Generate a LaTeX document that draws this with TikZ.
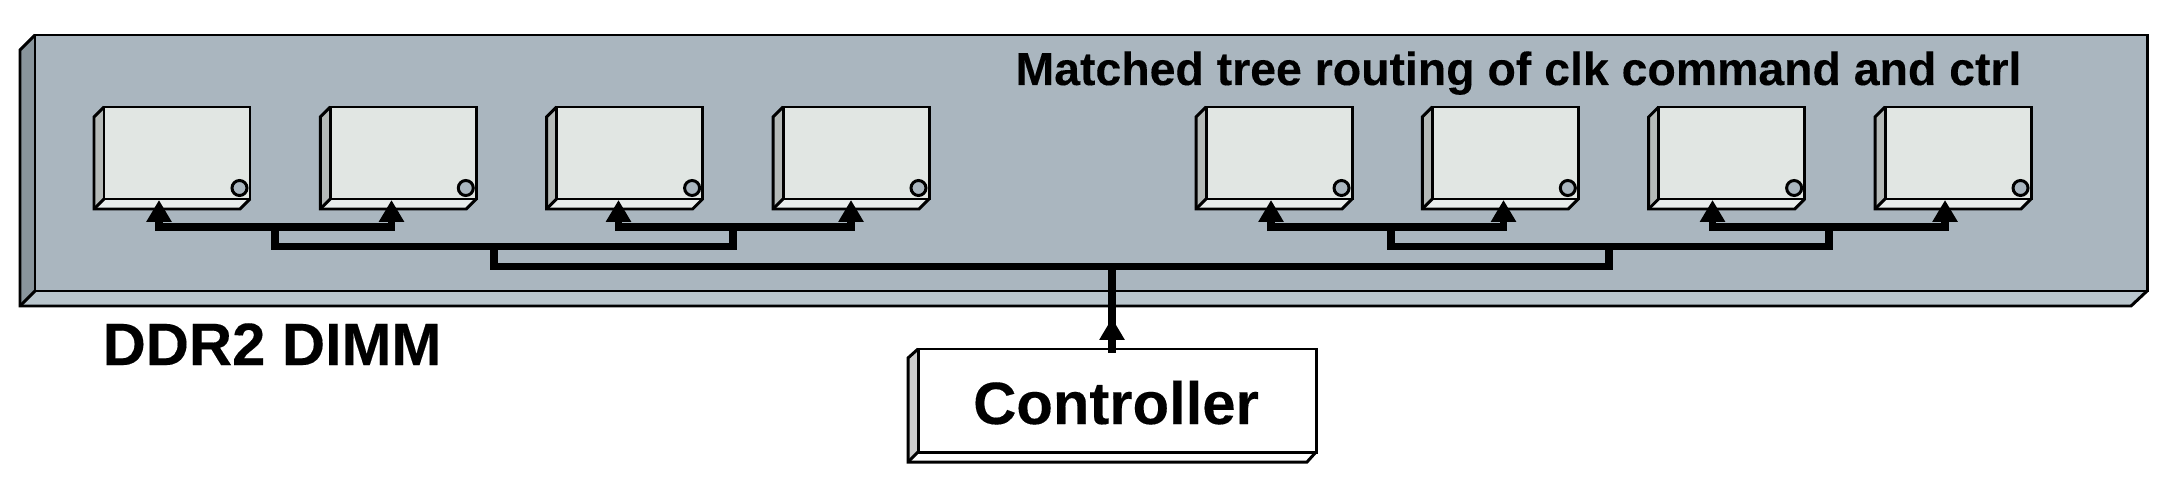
\documentclass[tikz,border=0pt]{standalone}
\usepackage{fontspec}
\setmainfont[BoldFeatures={FakeBold=0.2}]{Liberation Sans}
\usetikzlibrary{arrows.meta}
\definecolor{board}{HTML}{AAB6BF}
\definecolor{boardL}{HTML}{89959C}
\definecolor{boardB}{HTML}{B9C5CC}
\definecolor{chip}{HTML}{E1E6E3}
\definecolor{chipL}{HTML}{B5BAB8}
\definecolor{chipB}{HTML}{E9EDEC}
\definecolor{ctlL}{HTML}{CCCCCC}
\newlength{\xu}\setlength{\xu}{0.01cm}
\tikzset{
  edge3d/.style={draw=black,line width=0.85pt,line join=miter},
  wire/.style={line width=2.2pt,line cap=butt,line join=miter},
  tipwire/.style={wire,-{Triangle[width=6.8pt,length=6.2pt]}},
  lbl/.style={inner sep=0pt,anchor=base},
  flat/.style={edge3d,inner sep=0pt,outer sep=0pt,anchor=north west},
}
\newcommand{\chipat}[2]{%
  \fill[chipL] (#1-10,117)--(#1,107)--(#1,199)--(#1-10,209)--cycle;
  \fill[chipB] (#1-10,209)--(#1,199)--(#1+146,199)--(#1+136,209)--cycle;
  \node[flat,fill=chip,minimum width=146\xu,minimum height=92\xu] (#2) at (#1,107) {};
  \draw[edge3d] (#1,107)--(#1-10,117)--(#1-10,209)--(#1+136,209)--(#1+146,199);
  \draw[edge3d] (#1-10,209)--(#1,199);
  \draw[edge3d,fill=board] (#1+135.5,188) circle (7.5);
}
\begin{document}
\begin{tikzpicture}[x=0.01cm,y=-0.01cm]
\useasboundingbox (0,0) rectangle (2180,482);
% board
\fill[boardL] (20,50)--(35,35)--(35,291)--(20,306)--cycle;
\fill[boardB] (20,306)--(35,291)--(2147,291)--(2131,306)--cycle;
\node[flat,fill=board,minimum width=2112\xu,minimum height=256\xu] (brd) at (35,35) {};
\draw[edge3d] (35,35)--(20,50)--(20,306)--(2131,306)--(2147,291);
\draw[edge3d] (20,306)--(35,291);
% chips
\chipat{104}{c1}
\chipat{330.3}{c2}
\chipat{556.6}{c3}
\chipat{783}{c4}
\chipat{1206}{c5}
\chipat{1432.3}{c6}
\chipat{1658.6}{c7}
\chipat{1885}{c8}
% controller
\fill[ctlL] (908,358)--(918,349)--(918,452)--(908,462)--cycle;
\node[flat,fill=white,minimum width=398\xu,minimum height=103\xu] (ctl) at (918,349) {};
\draw[edge3d] (918,349)--(908,358)--(908,462)--(1307,462)--(1316,452);
\draw[edge3d] (908,462)--(918,452);
% tree junctions
\coordinate (a1) at (159,200);
\coordinate (a2) at (391.5,200);
\coordinate (a3) at (618.5,200);
\coordinate (a4) at (851,200);
\coordinate (a5) at (1271,200);
\coordinate (a6) at (1503.5,200);
\coordinate (a7) at (1712.5,200);
\coordinate (a8) at (1945,200);
\coordinate (p12) at (275,226.8);
\coordinate (p34) at (733,226.8);
\coordinate (p56) at (1391,226.8);
\coordinate (p78) at (1829,226.8);
\coordinate (q1) at (494,246.5);
\coordinate (q2) at (1609,246.5);
\coordinate (root) at (1112,266.5);
\coordinate (cp) at (1112,352.5);
\coordinate (hd) at (1112,318);
% wires
\foreach \p/\a/\b in {p12/a1/a2,p34/a3/a4,p56/a5/a6,p78/a7/a8}{
  \draw[tipwire] (\p) -| (\a);
  \draw[tipwire] (\p) -| (\b);
}
\draw[wire] (p12) |- (q1) -| (p34);
\draw[wire] (p56) |- (q2) -| (p78);
\draw[wire] (q1) |- (root) -| (q2);
\draw[wire] (cp) -- (root);
\draw[tipwire] (cp) -- (hd);
% text
\node[lbl,font=\fontsize{13.2pt}{16pt}\selectfont\bfseries] (t1) at (1518.5,85) {Matched tree routing of clk command and ctrl};
\node[lbl,font=\fontsize{17pt}{20pt}\selectfont\bfseries] (t2) at (272,365) {DDR2 DIMM};
\node[lbl,font=\fontsize{17pt}{20pt}\selectfont\bfseries] (t3) at (1116,424) {Controller};
\end{tikzpicture}
\end{document}
